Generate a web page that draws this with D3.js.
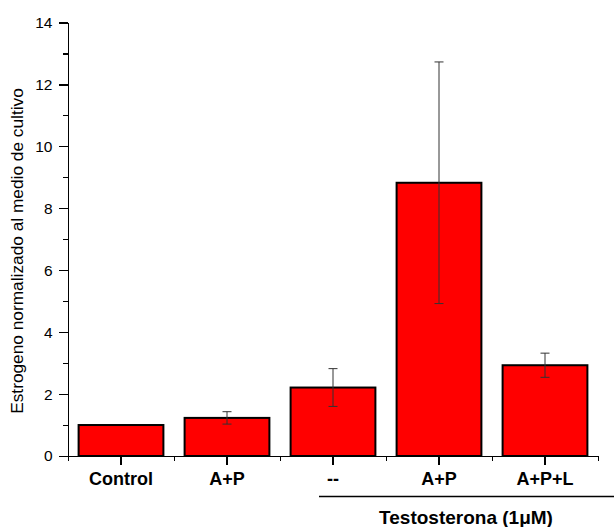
<html>
<head>
<script src="https://d3js.org/d3.v7.min.js"></script>
<style>
  body { margin: 0; background: #fff; }
  text { font-family: Arial, "Liberation Sans", sans-serif; }
  .axis path, .axis line { stroke: #000; stroke-width: 1.5; shape-rendering: crispEdges; }
</style>
</head>
<body>
<script>
var categories = ["Control", "A+P", "--", "A+P", "A+P+L"];
var values = [1.0, 1.23, 2.21, 8.82, 2.93];
var errors = [0, 0.2, 0.61, 3.9, 0.39];
var yTicks = [0, 2, 4, 6, 8, 10, 12, 14];
var yMinorTicks = [1, 3, 5, 7, 9, 11, 13];
var groupLabel = "Testosterona (1\u03BCM)";
var yTitle = "Estrogeno normalizado al medio de cultivo";

var w = 614, h = 527;
var plotLeft = 68, plotRight = 598, plotTop = 22.3, plotBottom = 456;

var svg = d3.select("body").append("svg").attr("width", w).attr("height", h);

var idx = categories.map(function (d, i) { return i; });

var x = d3.scaleBand().domain(idx).range([plotLeft, plotRight]).paddingInner(0.2).paddingOuter(0.1);
var xEdge = d3.scaleLinear().domain([0, categories.length]).range([plotLeft, plotRight]);
var y = d3.scaleLinear().domain([0, 14]).range([plotBottom, plotTop]);

// bars
svg.selectAll("rect.bar")
  .data(values)
  .enter()
  .append("rect")
    .attr("class", "bar")
    .attr("x", function (d, i) { return x(i); })
    .attr("y", function (d) { return y(d); })
    .attr("width", x.bandwidth())
    .attr("height", function (d) { return y(0) - y(d); })
    .attr("fill", "#ff0000")
    .attr("stroke", "#000")
    .attr("stroke-width", 2);

// error bars
var eb = svg.selectAll("g.err")
  .data(values.map(function (v, i) { return { v: v, e: errors[i], i: i }; }).filter(function (d) { return d.e > 0; }))
  .enter()
  .append("g")
    .attr("class", "err")
    .attr("stroke", "#333")
    .attr("stroke-width", 1);
eb.append("line")
  .attr("x1", function (d) { return x(d.i) + x.bandwidth() / 2; })
  .attr("x2", function (d) { return x(d.i) + x.bandwidth() / 2; })
  .attr("y1", function (d) { return y(d.v + d.e); })
  .attr("y2", function (d) { return y(d.v - d.e); });
eb.selectAll("line.cap")
  .data(function (d) { return [d.v + d.e, d.v - d.e].map(function (t) { return { t: t, i: d.i }; }); })
  .enter()
  .append("line")
    .attr("class", "cap")
    .attr("x1", function (d) { return x(d.i) + x.bandwidth() / 2 - 4.5; })
    .attr("x2", function (d) { return x(d.i) + x.bandwidth() / 2 + 4.5; })
    .attr("y1", function (d) { return y(d.t); })
    .attr("y2", function (d) { return y(d.t); });

// y axis
svg.append("g")
  .attr("class", "axis")
  .attr("transform", "translate(" + plotLeft + ",0)")
  .call(d3.axisLeft(y).tickValues(yMinorTicks).tickSize(5).tickFormat(""))
  .select(".domain").remove();
var yAxis = svg.append("g")
  .attr("class", "axis")
  .attr("transform", "translate(" + plotLeft + ",0)")
  .call(d3.axisLeft(y).tickValues(yTicks).tickSize(9.5).tickSizeOuter(0).tickPadding(6));
yAxis.selectAll("text").style("font-size", "15.5px").attr("fill", "#000");

// x axis
svg.append("g")
  .attr("class", "axis")
  .attr("transform", "translate(0," + plotBottom + ")")
  .call(d3.axisBottom(xEdge).tickValues(d3.range(categories.length + 1)).tickSize(5).tickSizeOuter(0).tickFormat(""));
var xAxis = svg.append("g")
  .attr("class", "axis")
  .attr("transform", "translate(0," + plotBottom + ")")
  .call(d3.axisBottom(x).tickSize(9).tickSizeOuter(0).tickPadding(7).tickFormat(function (i) { return categories[i]; }));
xAxis.select(".domain").remove();
xAxis.selectAll("text").style("font-size", "18px").style("font-weight", "bold").attr("fill", "#000");

// group bracket
svg.append("line")
  .attr("x1", 319).attr("x2", w)
  .attr("y1", 496.5).attr("y2", 496.5)
  .attr("stroke", "#000").attr("stroke-width", 1.5);
svg.append("text")
  .attr("x", 466).attr("y", 524)
  .attr("text-anchor", "middle")
  .style("font-size", "19px").style("font-weight", "bold")
  .text(groupLabel);

// y title
svg.append("text")
  .attr("transform", "translate(23,251) rotate(-90)")
  .attr("text-anchor", "middle")
  .style("font-size", "17.3px")
  .text(yTitle);
</script>
</body>
</html>
